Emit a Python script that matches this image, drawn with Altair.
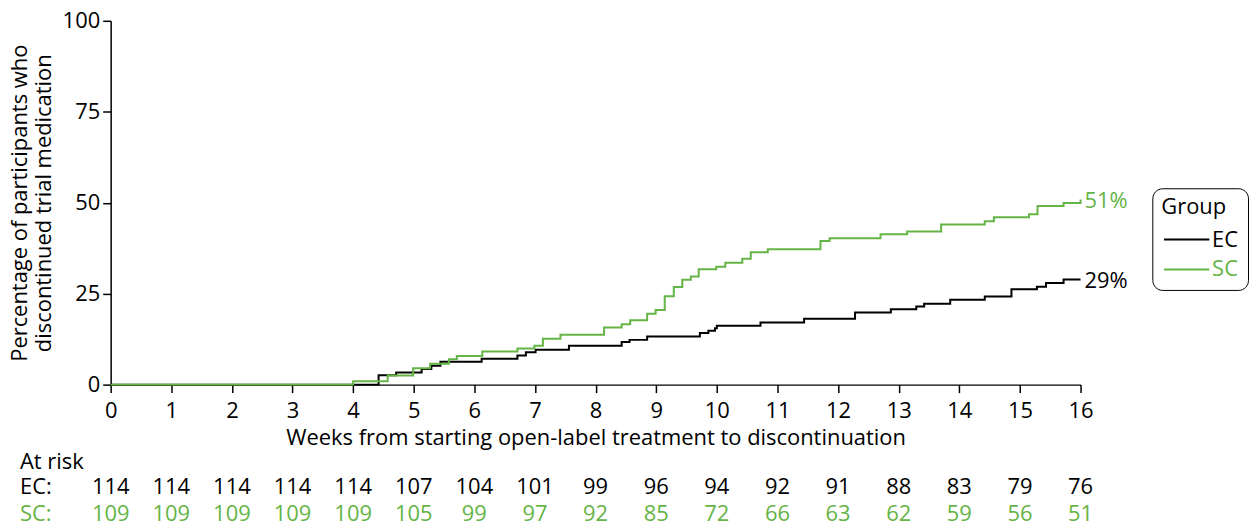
import altair as alt
import pandas as pd

GREEN = "#65b446"
FONT = "Open Sans"
FS = 22

groups = ["EC", "SC"]
colors = ["#000000", GREEN]

ec_weeks = [0, 4.42, 4.71, 5.13, 5.29, 5.44, 6.12, 6.71, 6.85, 7.01, 7.56, 8.43, 8.56, 8.85,
            9.72, 9.86, 9.97, 10.0, 10.72, 11.44, 12.28, 12.87, 13.29, 13.42, 13.85, 14.42,
            14.86, 15.28, 15.43, 15.72, 16.0]
ec_pct = [0, 2.6, 3.3, 4.3, 5.2, 6.3, 7.1, 8.0, 8.9, 9.6, 10.7, 11.7, 12.3, 13.2,
          14.2, 14.8, 15.5, 16.2, 17.1, 18.1, 19.8, 20.7, 21.5, 22.2, 23.3, 24.2,
          26.2, 26.9, 27.9, 28.9, 28.9]

sc_weeks = [0, 4.0, 4.57, 4.99, 5.27, 5.58, 5.71, 6.13, 6.71, 6.99, 7.13, 7.42, 8.14, 8.43,
            8.57, 8.85, 8.99, 9.14, 9.29, 9.43, 9.57, 9.70, 9.99, 10.14, 10.42, 10.56, 10.84,
            11.71, 11.86, 12.70, 13.14, 13.70, 14.42, 14.57, 15.15, 15.29, 15.72, 16.0]
sc_pct = [0, 0.9, 2.5, 4.5, 5.75, 7.0, 7.9, 9.1, 9.9, 10.7, 12.6, 13.7, 15.7, 16.6,
          17.7, 19.5, 20.5, 24.3, 26.8, 28.8, 29.7, 31.7, 32.4, 33.5, 34.6, 36.4, 37.2,
          39.5, 40.2, 41.3, 42.1, 44.0, 44.9, 46.0, 46.8, 49.1, 49.9, 50.9]

end_labels = ["29%", "51%"]
end_values = [28.4, 50.6]

risk_weeks = list(range(17))
ec_risk = [114, 114, 114, 114, 114, 107, 104, 101, 99, 96, 94, 92, 91, 88, 83, 79, 76]
sc_risk = [109, 109, 109, 109, 109, 105, 99, 97, 92, 85, 72, 66, 63, 62, 59, 56, 51]

lines_df = pd.concat([
    pd.DataFrame({"week": ec_weeks, "pct": ec_pct, "group": "EC"}),
    pd.DataFrame({"week": sc_weeks, "pct": sc_pct, "group": "SC"}),
])
end_df = pd.DataFrame({"week": [16, 16], "pct": end_values, "label": end_labels, "group": groups})
ec_risk_df = pd.DataFrame({"week": risk_weeks, "n": ec_risk})
sc_risk_df = pd.DataFrame({"week": risk_weeks, "n": sc_risk})

color_scale = alt.Scale(domain=groups, range=colors)

x_enc = alt.X("week:Q", scale=alt.Scale(domain=[0, 16], nice=False),
              axis=alt.Axis(values=list(range(17)), format="d",
                            title="Weeks from starting open-label treatment to discontinuation",
                            titlePadding=6, labelPadding=8, tickSize=8, labelFlush=False))
y_enc = alt.Y("pct:Q", scale=alt.Scale(domain=[0, 100], nice=False),
              axis=alt.Axis(values=[0, 25, 50, 75, 100], format="d",
                            title=["Percentage of participants who", "discontinued trial medication"],
                            titlePadding=7, labelPadding=3, tickSize=8))

lines = alt.Chart(lines_df).mark_line(interpolate="step-after", strokeWidth=2).encode(
    x=x_enc, y=y_enc,
    color=alt.Color("group:N", scale=color_scale,
                    legend=alt.Legend(title="Group", orient="none", legendX=1045, legendY=168,
                                      strokeColor="black", fillColor="white", cornerRadius=10,
                                      padding=9, symbolType="M-0.9,0H1.7", symbolSize=1225,
                                      symbolStrokeWidth=2, labelFontSize=FS, titleFontSize=FS,
                                      titleFontWeight="normal", titleColor="black",
                                      labelColor=alt.ExprRef("datum.label === 'SC' ? '" + GREEN + "' : '#000000'"),
                                      rowPadding=0, titlePadding=2, labelOffset=14)),
)

ends = alt.Chart(end_df).mark_text(align="left", baseline="middle", dx=4, fontSize=FS, font=FONT).encode(
    x="week:Q", y="pct:Q", text="label:N",
    color=alt.Color("group:N", scale=color_scale, legend=None),
)

risk_title = alt.Chart(pd.DataFrame({"t": ["At risk"]})).mark_text(
    align="left", baseline="middle", fontSize=FS, font=FONT, color="black").encode(
    x=alt.value(-91), y=alt.value(443), text="t:N")
ec_label = alt.Chart(pd.DataFrame({"t": ["EC:"]})).mark_text(
    align="left", baseline="middle", fontSize=FS, font=FONT, color="black").encode(
    x=alt.value(-91), y=alt.value(468), text="t:N")
sc_label = alt.Chart(pd.DataFrame({"t": ["SC:"]})).mark_text(
    align="left", baseline="middle", fontSize=FS, font=FONT, color=GREEN).encode(
    x=alt.value(-91), y=alt.value(495), text="t:N")
ec_nums = alt.Chart(ec_risk_df).mark_text(
    align="center", baseline="middle", fontSize=FS, font=FONT, color="black").encode(
    x="week:Q", y=alt.value(468), text="n:Q")
sc_nums = alt.Chart(sc_risk_df).mark_text(
    align="center", baseline="middle", fontSize=FS, font=FONT, color=GREEN).encode(
    x="week:Q", y=alt.value(495), text="n:Q")

chart = alt.layer(lines, ends, risk_title, ec_label, sc_label, ec_nums, sc_nums).properties(
    width=973, height=365,
    autosize=alt.AutoSizeParams(type="none"),
    padding={"left": 103, "top": 12, "right": 170, "bottom": 143},
).configure_view(stroke=None).configure_axis(
    grid=False, domainColor="black", tickColor="black", domainWidth=1.5, tickWidth=1.5,
    labelColor="black", titleColor="black", labelFont=FONT, titleFont=FONT,
    labelFontSize=FS, titleFontSize=FS, titleFontWeight="normal",
).configure_legend(labelFont=FONT, titleFont=FONT).configure_text(font=FONT)

chart.save("out.html", embed_options={"renderer": "svg", "actions": False})
